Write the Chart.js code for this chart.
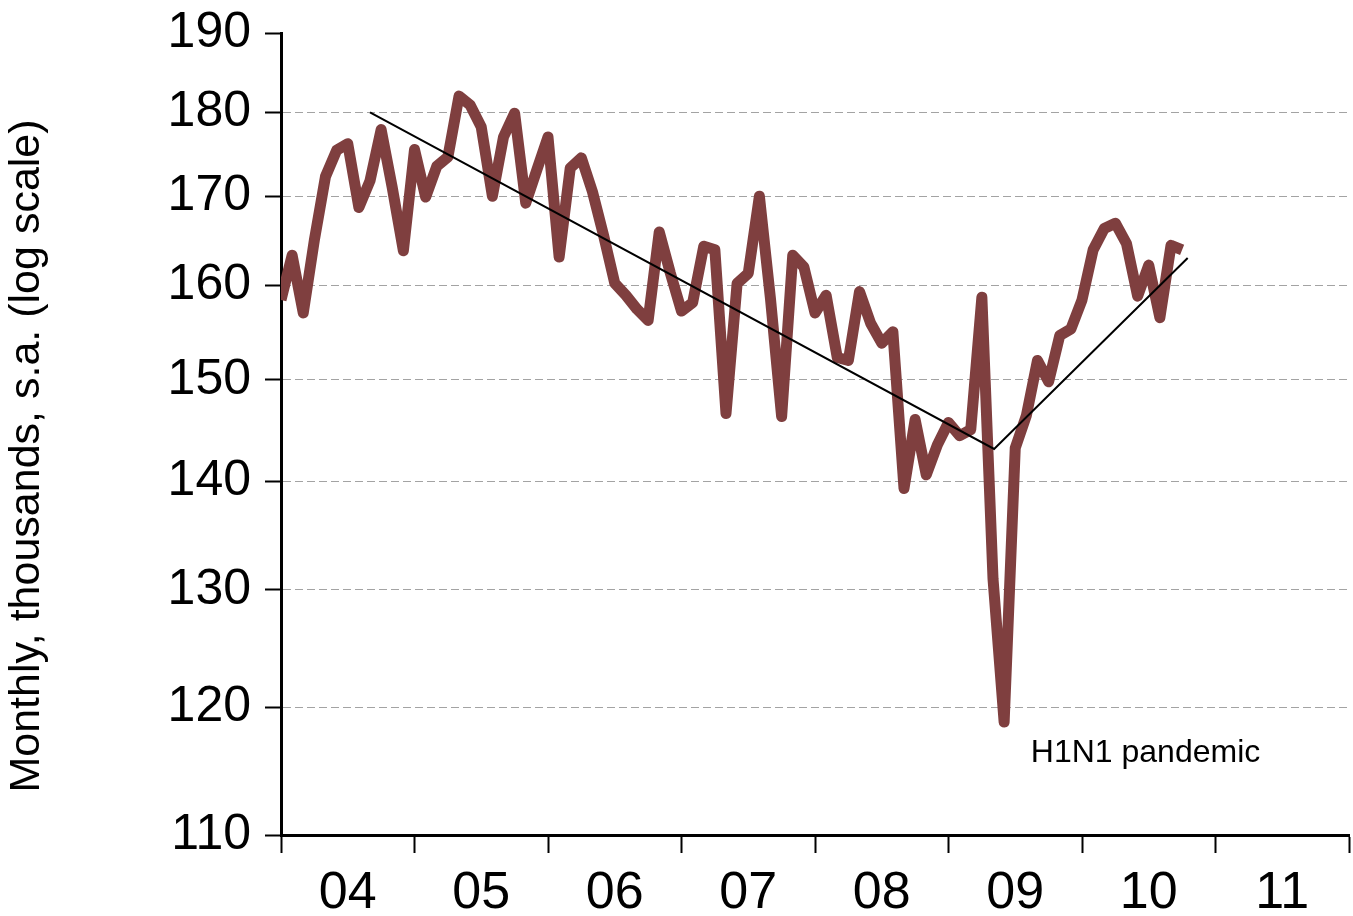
<!DOCTYPE html>
<html>
<head>
<meta charset="utf-8">
<title>Monthly, thousands, s.a.</title>
<script src="https://cdn.jsdelivr.net/npm/chart.js@4/dist/chart.umd.min.js"></script>
<style>
  html, body { margin: 0; padding: 0; background: #fff; }
  #wrap { width: 1353px; height: 916px; position: relative; }
</style>
</head>
<body>
<div id="wrap"><canvas id="chart"></canvas></div>
<script>
// monthly series, Jan 2004 .. Oct 2010 (thousands, s.a.)
const monthly = [
  158.4, 163.3, 157.0, 165.0, 172.3, 175.4, 176.2, 168.7, 171.8, 177.9, 171.0, 163.8, // 2004
  175.5, 169.9, 173.5, 174.6, 182.0, 180.9, 178.2, 170.0, 177.0, 179.9, 169.2, 173.1, // 2005
  177.0, 163.1, 173.3, 174.5, 170.5, 165.5, 160.2, 158.9, 157.4, 156.2, 165.9, 161.3, // 2006
  157.2, 158.1, 164.3, 163.9, 146.6, 160.2, 161.3, 170.0, 158.5, 146.3, 163.3, 162.0, // 2007
  157.0, 158.9, 152.3, 152.0, 159.3, 155.9, 153.8, 155.0, 139.3, 146.0, 140.6, 143.5, // 2008
  145.7, 144.4, 145.0, 158.7, 131.0, 118.8, 143.2, 146.4, 152.0, 149.8, 154.6, 155.3, // 2009
  158.4, 163.9, 166.3, 166.9, 164.6, 158.8, 162.2, 156.5, 164.4, 163.9              // 2010
];

// hand-drawn trend: months since Jan 2004 / level
const trendMonth = [8.0, 64.1, 81.5];
const trendLevel = [180, 143.1, 163];

const yearLabels = ["04", "05", "06", "07", "08", "09", "10", "11"];
const yTicks = [110, 120, 130, 140, 150, 160, 170, 180, 190];

const yTitle = "Monthly, thousands, s.a. (log scale)";
const noteText = "H1N1 pandemic";

const FONT = '"Liberation Sans", Arial, Helvetica, sans-serif';
const LINE = "#7f3f3f";

// ticks every half year: boundaries get a mark, mid-years get the label
const xTickVals = [];
for (let m = 0; m <= yearLabels.length * 12; m += 6) xTickVals.push(m);

// keep the plot box fixed: no extra room for overhanging tick labels
function noOverhang(s) {
  s.paddingTop = 0;
  s.paddingBottom = 0;
  s.paddingLeft = 0;
  s.paddingRight = 0;
}

const extraText = {
  id: "extraText",
  afterDraw(chart) {
    const { ctx, scales: { x, y } } = chart;
    ctx.save();
    ctx.fillStyle = "#000";
    ctx.textBaseline = "middle";
    ctx.textAlign = "left";
    ctx.font = `32px ${FONT}`;
    ctx.fillText(noteText, x.getPixelForValue(67.4), y.getPixelForValue(116.3));

    ctx.translate(27, 456);
    ctx.rotate(-Math.PI / 2);
    ctx.textAlign = "center";
    ctx.font = `43px ${FONT}`;
    ctx.fillText(yTitle, 0, 0);
    ctx.restore();
  }
};

new Chart(document.getElementById("chart"), {
  type: "line",
  data: {
    datasets: [
      {
        label: "trend",
        data: trendMonth.map((m, i) => ({ x: m, y: trendLevel[i] })),
        borderColor: "#000",
        borderWidth: 2,
        pointRadius: 0,
        tension: 0
      },
      {
        label: "monthly",
        data: monthly.map((v, i) => ({ x: i, y: v })),
        borderColor: LINE,
        borderWidth: 11,
        borderJoinStyle: "round",
        pointRadius: 0,
        tension: 0
      }
    ]
  },
  options: {
    responsive: true,
    maintainAspectRatio: false,
    animation: false,
    devicePixelRatio: 1,
    layout: { padding: { left: 0, top: 33, right: 4, bottom: 0 } },
    plugins: { legend: { display: false }, tooltip: { enabled: false } },
    scales: {
      x: {
        type: "linear",
        min: 0,
        max: yearLabels.length * 12,
        afterBuildTicks: (s) => { s.ticks = xTickVals.map((v) => ({ value: v })); },
        afterFit: (s) => { s.height = 81; noOverhang(s); },
        ticks: {
          autoSkip: false,
          maxRotation: 0,
          minRotation: 0,
          padding: 9,
          color: "#000",
          font: { family: FONT, size: 52 },
          callback: (v) => (v % 12 === 6 ? yearLabels[(v - 6) / 12] : "")
        },
        grid: {
          drawOnChartArea: false,
          drawTicks: true,
          tickLength: 18,
          tickWidth: 2,
          tickColor: (c) => (c.tick && c.tick.value % 12 === 0 ? "#000" : "rgba(0,0,0,0)")
        },
        border: { display: true, color: "#000", width: 3 }
      },
      y: {
        type: "logarithmic",
        min: 110,
        max: 190,
        afterBuildTicks: (s) => { s.ticks = yTicks.map((v) => ({ value: v })); },
        afterFit: (s) => { s.width = 281; noOverhang(s); },
        ticks: {
          padding: 14,
          color: "#000",
          font: { family: FONT, size: 50 },
          callback: (v) => String(v)
        },
        grid: {
          color: (c) => (c.tick && (c.tick.value === 110 || c.tick.value === 190) ? "rgba(0,0,0,0)" : "#a3a3a3"),
          lineWidth: 1,
          tickLength: 16,
          tickWidth: 2,
          tickColor: "#000",
          tickBorderDash: []
        },
        border: { display: true, color: "#000", width: 3, dash: [8, 4] }
      }
    }
  },
  plugins: [extraText]
});
</script>
</body>
</html>
